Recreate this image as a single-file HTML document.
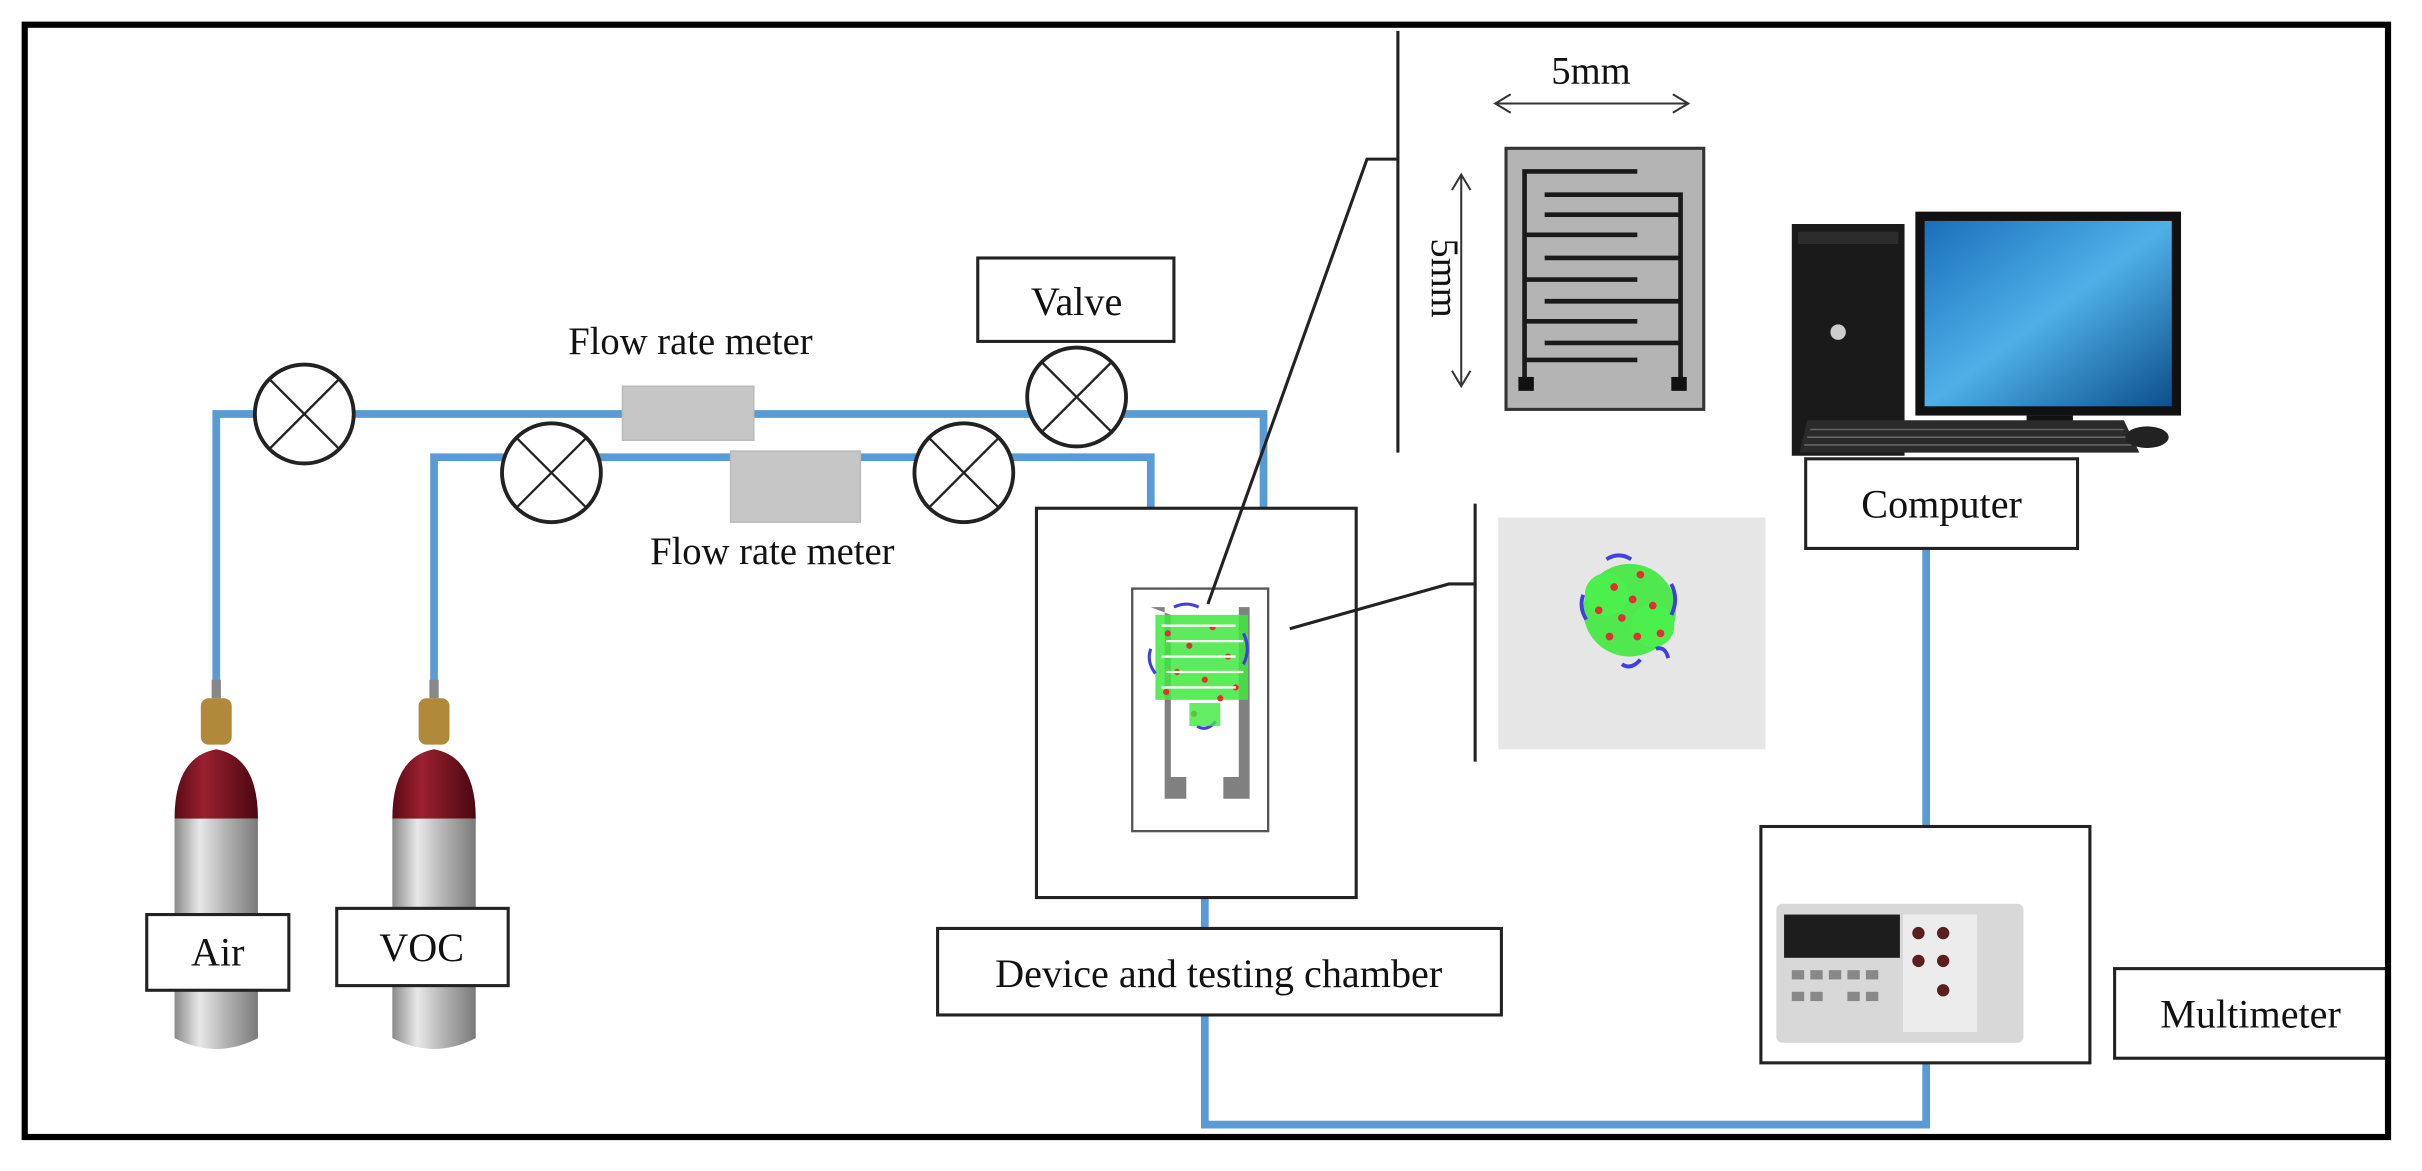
<!DOCTYPE html>
<html><head><meta charset="utf-8"><style>
html,body{margin:0;padding:0;background:#fff}
svg{display:block}
text{font-family:"Liberation Serif",serif;fill:#111}
</style></head><body>
<svg width="2422" height="1171" viewBox="0 0 1568 758" preserveAspectRatio="none" xmlns="http://www.w3.org/2000/svg">
<defs>
<linearGradient id="metal" x1="0" x2="1"><stop offset="0" stop-color="#8a8a8a"/><stop offset="0.3" stop-color="#e8e8e8"/><stop offset="0.6" stop-color="#b5b5b5"/><stop offset="1" stop-color="#7a7a7a"/></linearGradient>
<linearGradient id="red" x1="0" x2="1"><stop offset="0" stop-color="#5a0a14"/><stop offset="0.35" stop-color="#9a2030"/><stop offset="1" stop-color="#4a0810"/></linearGradient>
<linearGradient id="scr" x1="0" x2="1" y1="0" y2="1"><stop offset="0" stop-color="#1a6fb8"/><stop offset="0.5" stop-color="#4fb0e8"/><stop offset="1" stop-color="#0d4f8c"/></linearGradient>
</defs>
<rect x="0" y="0" width="1568" height="758" fill="#fff"/>
<g fill="none" stroke="#5b9bd5" stroke-width="5">
<polyline points="140,445 140,268 818,268 818,330"/>
<polyline points="281,445 281,296 745,296 745,330"/>
<polyline points="780,581 780,728 1247,728 1247,688"/>
<line x1="1247" y1="355" x2="1247" y2="535"/>
</g>
<g fill="#fff" stroke="#222" stroke-width="2.5">
<circle cx="197" cy="268" r="32"/><circle cx="697" cy="257" r="32"/>
<circle cx="357" cy="306" r="32"/><circle cx="624" cy="306" r="32"/>
</g>
<g stroke="#222" stroke-width="1.5">
<path d="M174,245 L220,291 M220,245 L174,291"/>
<path d="M674,234 L720,280 M720,234 L674,280"/>
<path d="M334,283 L380,329 M380,283 L334,329"/>
<path d="M601,283 L647,329 M647,283 L601,329"/>
</g>
<rect x="403" y="250" width="85" height="35" fill="#c6c6c6" stroke="#bbb"/>
<rect x="473" y="292" width="84" height="46" fill="#c6c6c6" stroke="#bbb"/>
<text x="447" y="229" font-size="25" text-anchor="middle">Flow rate meter</text>
<text x="500" y="365" font-size="25" text-anchor="middle">Flow rate meter</text>
<rect x="633" y="167" width="127" height="54" fill="#fff" stroke="#222" stroke-width="2"/>
<text x="697" y="204" font-size="26" text-anchor="middle">Valve</text>
<g>
<rect x="137" y="440" width="6" height="12" fill="#888"/>
<rect x="130" y="452" width="20" height="30" rx="5" fill="#b08a3a"/>
<path d="M113,530 Q113,490 140,485 Q167,490 167,530 Z" fill="url(#red)"/>
<path d="M113,530 L167,530 L167,672 Q140,686 113,672 Z" fill="url(#metal)"/>
<rect x="278" y="440" width="6" height="12" fill="#888"/>
<rect x="271" y="452" width="20" height="30" rx="5" fill="#b08a3a"/>
<path d="M254,530 Q254,490 281,485 Q308,490 308,530 Z" fill="url(#red)"/>
<path d="M254,530 L308,530 L308,672 Q281,686 254,672 Z" fill="url(#metal)"/>
</g>
<rect x="95" y="592" width="92" height="49" fill="#fff" stroke="#222" stroke-width="2"/>
<text x="141" y="625" font-size="26" text-anchor="middle">Air</text>
<rect x="218" y="588" width="111" height="50" fill="#fff" stroke="#222" stroke-width="2"/>
<text x="273" y="622" font-size="26" text-anchor="middle">VOC</text>
<rect x="671" y="329" width="207" height="252" fill="#fff" stroke="#222" stroke-width="2"/>
<rect x="733" y="381" width="88" height="157" fill="#fff" stroke="#555" stroke-width="1.5"/>
<path d="M745,393 h9 v124 h14 v-14 h-10 v-105 z" fill="#808080"/>
<path d="M809,393 h-7 v110 h-10 v14 h17 z" fill="#808080"/>
<g>
<rect x="748" y="398" width="60" height="55" fill="#3ee83e" opacity="0.85"/>
<g fill="#e23030"><circle cx="756" cy="410" r="2"/><circle cx="770" cy="418" r="2"/><circle cx="785" cy="406" r="2"/><circle cx="795" cy="425" r="2"/><circle cx="762" cy="435" r="2"/><circle cx="780" cy="440" r="2"/><circle cx="800" cy="445" r="2"/><circle cx="755" cy="448" r="2"/><circle cx="790" cy="452" r="2"/><circle cx="773" cy="462" r="2"/></g>
<g stroke="#fff" stroke-width="1.5"><line x1="752" y1="405" x2="800" y2="405"/><line x1="755" y1="415" x2="805" y2="415"/><line x1="752" y1="425" x2="800" y2="425"/><line x1="755" y1="435" x2="805" y2="435"/><line x1="752" y1="445" x2="800" y2="445"/></g>
<g fill="none" stroke="#4040e0" stroke-width="2"><path d="M760,393 q8,-4 16,0"/><path d="M805,410 q5,10 0,20"/><path d="M745,420 q-3,8 3,16"/><path d="M775,470 q6,4 12,-3"/></g>
<rect x="770" y="455" width="20" height="15" fill="#3ee83e" opacity="0.8"/>
</g>
<rect x="607" y="601" width="365" height="56" fill="#fff" stroke="#222" stroke-width="2"/>
<text x="789" y="639" font-size="26" text-anchor="middle">Device and testing chamber</text>
<g stroke="#222" stroke-width="2" fill="none">
<polyline points="782,391 885,103 905,103"/>
<line x1="905" y1="20" x2="905" y2="293"/>
<polyline points="835,407 938,378 955,378"/>
<line x1="955" y1="326" x2="955" y2="493"/>
</g>
<rect x="975" y="96" width="128" height="169" fill="#b4b4b4" stroke="#333" stroke-width="2"/>
<g stroke="#1a1a1a" stroke-width="3" fill="none">
<polyline points="1060,111 987,111 987,252"/>
<polyline points="1000,126 1088,126 1088,252"/>
<line x1="987" y1="152" x2="1060" y2="152"/>
<line x1="987" y1="181" x2="1060" y2="181"/>
<line x1="987" y1="208" x2="1060" y2="208"/>
<line x1="987" y1="233" x2="1060" y2="233"/>
<line x1="1000" y1="139" x2="1088" y2="139"/>
<line x1="1000" y1="167" x2="1088" y2="167"/>
<line x1="1000" y1="195" x2="1088" y2="195"/>
<line x1="1000" y1="222" x2="1088" y2="222"/>
</g>
<rect x="983" y="244" width="10" height="9" fill="#111"/><rect x="1082" y="244" width="10" height="9" fill="#111"/>
<g stroke="#333" stroke-width="1.3" fill="none">
<line x1="968" y1="67" x2="1093" y2="67"/><polyline points="978,61 968,67 978,73"/><polyline points="1083,61 1093,67 1083,73"/>
<line x1="946" y1="113" x2="946" y2="250"/><polyline points="940,123 946,113 952,123"/><polyline points="940,240 946,250 952,240"/>
</g>
<text x="1030" y="54" font-size="25" text-anchor="middle">5mm</text>
<text x="0" y="0" font-size="25" text-anchor="middle" transform="translate(927,180) rotate(90)">5mm</text>
<rect x="970" y="335" width="173" height="150" fill="#e6e6e6"/>
<g>
<circle cx="1055" cy="395" r="30" fill="#3ee83e" opacity="0.9"/>
<circle cx="1040" cy="385" r="14" fill="#4cf04c"/><circle cx="1070" cy="405" r="14" fill="#4cf04c"/>
<g fill="#e23030"><circle cx="1045" cy="380" r="2.5"/><circle cx="1062" cy="372" r="2.5"/><circle cx="1070" cy="392" r="2.5"/><circle cx="1050" cy="400" r="2.5"/><circle cx="1035" cy="395" r="2.5"/><circle cx="1060" cy="412" r="2.5"/><circle cx="1075" cy="410" r="2.5"/><circle cx="1042" cy="412" r="2.5"/><circle cx="1057" cy="388" r="2.5"/></g>
<g fill="none" stroke="#4040e0" stroke-width="2.5"><path d="M1040,362 q8,-5 16,0"/><path d="M1082,378 q5,10 0,20"/><path d="M1025,385 q-3,8 2,16"/><path d="M1050,430 q6,4 12,-3"/><path d="M1072,420 q6,-2 8,6"/></g>
</g>
<rect x="1160" y="145" width="73" height="150" fill="#1a1a1a"/>
<rect x="1164" y="150" width="65" height="8" fill="#2c2c2c"/>
<circle cx="1190" cy="215" r="5" fill="#ccc"/>
<rect x="1240" y="137" width="172" height="132" fill="#111"/>
<rect x="1246" y="143" width="160" height="120" fill="url(#scr)"/>
<rect x="1312" y="269" width="30" height="14" fill="#111"/>
<path d="M1170,272 L1375,272 L1385,293 L1165,293 Z" fill="#2a2a2a"/>
<g stroke="#666" stroke-width="1"><line x1="1172" y1="278" x2="1375" y2="278"/><line x1="1170" y1="283" x2="1378" y2="283"/><line x1="1168" y1="288" x2="1380" y2="288"/></g>
<ellipse cx="1390" cy="283" rx="14" ry="7" fill="#222"/>
<rect x="1169" y="297" width="176" height="58" fill="#fff" stroke="#222" stroke-width="2"/>
<text x="1257" y="335" font-size="26" text-anchor="middle">Computer</text>
<rect x="1140" y="535" width="213" height="153" fill="#fff" stroke="#222" stroke-width="2"/>
<rect x="1150" y="585" width="160" height="90" rx="4" fill="#d8d8d8"/>
<rect x="1155" y="592" width="75" height="28" fill="#1d1d1d"/>
<rect x="1232" y="592" width="48" height="76" fill="#ececec"/>
<g fill="#5a2020"><circle cx="1242" cy="604" r="4"/><circle cx="1258" cy="604" r="4"/><circle cx="1242" cy="622" r="4"/><circle cx="1258" cy="622" r="4"/><circle cx="1258" cy="641" r="4"/></g>
<g fill="#888"><rect x="1160" y="628" width="8" height="6"/><rect x="1172" y="628" width="8" height="6"/><rect x="1184" y="628" width="8" height="6"/><rect x="1196" y="628" width="8" height="6"/><rect x="1208" y="628" width="8" height="6"/><rect x="1160" y="642" width="8" height="6"/><rect x="1172" y="642" width="8" height="6"/><rect x="1196" y="642" width="8" height="6"/><rect x="1208" y="642" width="8" height="6"/></g>
<rect x="1369" y="627" width="176" height="58" fill="#fff" stroke="#222" stroke-width="2"/>
<text x="1457" y="665" font-size="26" text-anchor="middle">Multimeter</text>
<rect x="16" y="16" width="1530" height="720" fill="none" stroke="#000" stroke-width="4"/>
</svg>
</body></html>
